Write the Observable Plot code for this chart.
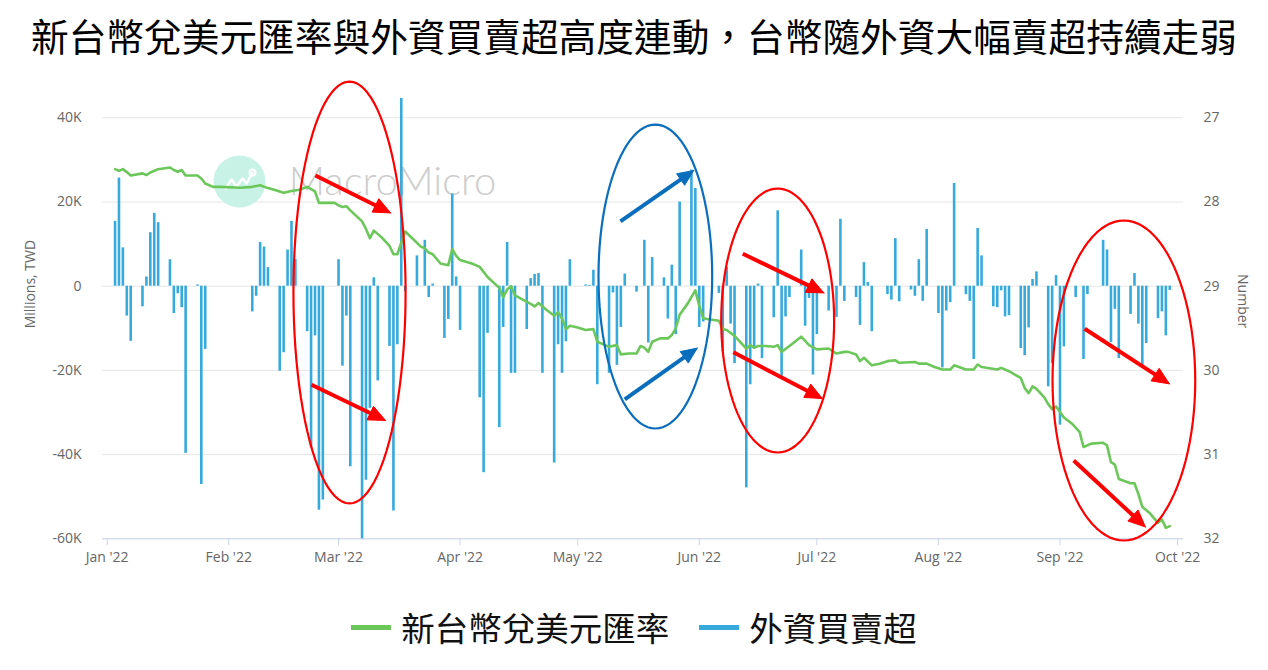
<!DOCTYPE html>
<html><head><meta charset="utf-8">
<script src="https://cdn.jsdelivr.net/npm/d3@7"></script>
<script src="https://cdn.jsdelivr.net/npm/@observablehq/plot@0.6"></script>
<style>
html,body{margin:0;padding:0;background:#fff}
body{width:1268px;height:670px;position:relative;overflow:hidden;font-family:"Noto Sans CJK TC","Noto Sans",sans-serif}
#title{position:absolute;left:0;top:13px;width:1268px;text-align:center;font-size:37.7px;line-height:44px;color:#000;white-space:nowrap}
#chart{position:absolute;left:0;top:70px}
#legend{position:absolute;left:0;top:606px;width:1268px;display:flex;justify-content:center;align-items:center;font-size:33.5px;line-height:42px;color:#111}
#legend .sw{display:inline-block;width:40px;height:5px;margin-right:10px}
</style></head>
<body>
<div id="title">新台幣兌美元匯率與外資買賣超高度連動，台幣隨外資大幅賣超持續走弱</div>
<div id="chart"></div>
<div id="legend"><span class="sw" style="background:#6cc75a"></span><span>新台幣兌美元匯率</span><span class="sw" style="background:#37aadc;margin-left:30px"></span><span>外資買賣超</span></div>
<script>
// ---------- data ----------
// Foreign investors' net buy/sell (millions TWD), per trading day
const foreignNet = [
["2022-01-03",15400],["2022-01-04",25700],["2022-01-05",9100],["2022-01-06",-7100],["2022-01-07",-13100],
["2022-01-10",-4900],["2022-01-11",2200],["2022-01-12",12700],["2022-01-13",17300],["2022-01-14",15100],
["2022-01-17",6300],["2022-01-18",-6500],["2022-01-19",-1800],["2022-01-20",-5100],["2022-01-21",-39700],
["2022-01-24",300],["2022-01-25",-47100],["2022-01-26",-15000],
["2022-02-07",-6100],["2022-02-08",-2400],["2022-02-09",10400],["2022-02-10",9300],["2022-02-11",4400],
["2022-02-14",-20200],["2022-02-15",-15800],["2022-02-16",8600],["2022-02-17",15400],["2022-02-18",6300],
["2022-02-21",-10800],["2022-02-22",-38400],["2022-02-23",-11800],["2022-02-24",-53200],["2022-02-25",-50800],
["2022-03-01",6300],["2022-03-02",-19000],["2022-03-03",-7100],["2022-03-04",-42900],
["2022-03-07",-60000],["2022-03-08",-46100],["2022-03-09",-29000],["2022-03-10",2000],["2022-03-11",-22500],
["2022-03-14",-14300],["2022-03-15",-53400],["2022-03-16",-13900],["2022-03-17",44600],["2022-03-18",-1300],
["2022-03-21",7200],["2022-03-23",10900],["2022-03-24",-2700],["2022-03-25",500],
["2022-03-28",-12400],["2022-03-29",-7900],["2022-03-30",21900],["2022-03-31",2200],["2022-04-01",-10500],
["2022-04-06",-26500],["2022-04-07",-44300],["2022-04-08",-11200],
["2022-04-11",-33600],["2022-04-12",-9800],["2022-04-13",10400],["2022-04-14",-20700],["2022-04-15",-20700],
["2022-04-18",-10300],["2022-04-19",1800],["2022-04-20",2800],["2022-04-21",3000],["2022-04-22",-20700],
["2022-04-25",-42000],["2022-04-26",-13900],["2022-04-27",-20700],["2022-04-28",-13200],["2022-04-29",6300],
["2022-05-03",300],["2022-05-04",200],["2022-05-05",3800],["2022-05-06",-23400],
["2022-05-09",-20700],["2022-05-10",-1600],["2022-05-11",-18800],["2022-05-12",-9800],["2022-05-13",2900],
["2022-05-16",-1400],["2022-05-18",10900],["2022-05-19",-13500],["2022-05-20",6800],
["2022-05-23",2000],["2022-05-24",-7800],["2022-05-25",5000],["2022-05-26",-11500],["2022-05-27",20000],
["2022-05-30",27600],["2022-05-31",23200],["2022-06-01",-9800],["2022-06-02",-8500],
["2022-06-06",-1700],["2022-06-07",-15600],["2022-06-08",4400],["2022-06-09",-9000],["2022-06-10",-18400],
["2022-06-13",-47900],["2022-06-14",-23400],["2022-06-15",-15000],["2022-06-16",500],["2022-06-17",-17200],
["2022-06-20",-7500],["2022-06-21",17900],["2022-06-22",-21400],["2022-06-23",-7300],["2022-06-24",-2700],
["2022-06-27",8600],["2022-06-28",-9500],["2022-06-29",-2900],["2022-06-30",-21100],["2022-07-01",-11500],
["2022-07-04",-5900],["2022-07-06",-7400],["2022-07-07",15900],["2022-07-08",-3600],
["2022-07-11",-2700],["2022-07-12",-9300],["2022-07-13",5600],["2022-07-14",900],["2022-07-15",-10800],
["2022-07-19",-2000],["2022-07-20",-3300],["2022-07-21",11300],["2022-07-22",-3700],
["2022-07-25",-900],["2022-07-26",-2400],["2022-07-27",6300],["2022-07-28",-3600],["2022-07-29",13500],
["2022-08-01",-6500],["2022-08-02",-19400],["2022-08-03",-5900],["2022-08-04",-3900],["2022-08-05",24400],
["2022-08-08",-2000],["2022-08-09",-3600],["2022-08-10",-17400],["2022-08-11",13700],["2022-08-12",7200],
["2022-08-15",-4900],["2022-08-16",-5100],["2022-08-17",-1100],["2022-08-18",-7300],["2022-08-19",-7000],
["2022-08-22",-14800],["2022-08-23",-16500],["2022-08-24",-9900],["2022-08-25",1600],["2022-08-26",3400],
["2022-08-29",-23900],["2022-08-30",-18400],["2022-08-31",2500],["2022-09-01",-33000],["2022-09-02",-14400],
["2022-09-05",-2700],["2022-09-07",-17400],["2022-09-08",-2000],
["2022-09-12",10900],["2022-09-13",8600],["2022-09-14",-13400],["2022-09-15",-5500],["2022-09-16",-17200],
["2022-09-19",-6700],["2022-09-20",3000],["2022-09-21",-9000],["2022-09-22",-18800],["2022-09-23",-13600],
["2022-09-26",-7700],["2022-09-27",-6100],["2022-09-28",-11800],["2022-09-29",-1000]
];
// TWD per USD
const twdUsd = [
["2022-01-03",27.61],["2022-01-04",27.63],["2022-01-05",27.61],["2022-01-06",27.645],["2022-01-07",27.685],
["2022-01-10",27.66],["2022-01-11",27.68],["2022-01-12",27.65],["2022-01-14",27.61],["2022-01-17",27.59],
["2022-01-18",27.62],["2022-01-19",27.64],["2022-01-20",27.62],["2022-01-21",27.685],["2022-01-24",27.685],
["2022-01-25",27.72],["2022-01-26",27.78],["2022-01-28",27.82],["2022-01-30",27.82],["2022-02-04",27.83],
["2022-02-07",27.82],["2022-02-09",27.80],["2022-02-11",27.835],["2022-02-13",27.86],["2022-02-15",27.89],
["2022-02-17",27.87],["2022-02-19",27.855],["2022-02-21",27.82],["2022-02-23",27.875],["2022-02-24",28.01],
["2022-02-25",28.01],["2022-02-28",28.01],["2022-03-01",28.04],["2022-03-02",28.06],["2022-03-03",28.05],
["2022-03-04",28.10],["2022-03-07",28.23],["2022-03-08",28.32],["2022-03-09",28.43],["2022-03-10",28.34],
["2022-03-12",28.42],["2022-03-14",28.52],["2022-03-15",28.62],["2022-03-16",28.62],["2022-03-18",28.35],
["2022-03-20",28.44],["2022-03-22",28.53],["2022-03-23",28.55],["2022-03-24",28.60],["2022-03-25",28.62],
["2022-03-27",28.73],["2022-03-29",28.75],["2022-03-30",28.56],["2022-03-31",28.64],["2022-04-01",28.69],
["2022-04-04",28.73],["2022-04-06",28.77],["2022-04-08",28.89],["2022-04-11",29.02],["2022-04-12",29.13],
["2022-04-13",29.04],["2022-04-14",29.00],["2022-04-15",29.11],["2022-04-17",29.16],["2022-04-19",29.21],
["2022-04-20",29.24],["2022-04-21",29.20],["2022-04-23",29.28],["2022-04-25",29.35],["2022-04-26",29.31],
["2022-04-27",29.38],["2022-04-28",29.51],["2022-04-29",29.47],["2022-05-01",29.49],["2022-05-03",29.52],
["2022-05-05",29.51],["2022-05-06",29.66],["2022-05-08",29.70],["2022-05-09",29.72],["2022-05-11",29.70],
["2022-05-12",29.81],["2022-05-14",29.80],["2022-05-16",29.80],["2022-05-17",29.71],["2022-05-18",29.73],
["2022-05-19",29.78],["2022-05-20",29.66],["2022-05-22",29.62],["2022-05-24",29.62],["2022-05-25",29.58],
["2022-05-26",29.50],["2022-05-27",29.34],["2022-05-29",29.21],["2022-05-31",29.05],["2022-06-01",29.23],
["2022-06-02",29.38],["2022-06-03",29.39],["2022-06-06",29.41],["2022-06-07",29.51],["2022-06-08",29.52],
["2022-06-10",29.59],["2022-06-11",29.64],["2022-06-13",29.74],["2022-06-14",29.70],["2022-06-15",29.73],
["2022-06-16",29.71],["2022-06-18",29.71],["2022-06-20",29.72],["2022-06-21",29.70],["2022-06-22",29.78],
["2022-06-24",29.71],["2022-06-27",29.60],["2022-06-29",29.70],["2022-07-01",29.75],["2022-07-04",29.74],
["2022-07-06",29.80],["2022-07-08",29.78],["2022-07-09",29.78],["2022-07-11",29.81],["2022-07-12",29.89],
["2022-07-13",29.85],["2022-07-15",29.94],["2022-07-17",29.92],["2022-07-19",29.89],["2022-07-21",29.88],
["2022-07-22",29.91],["2022-07-26",29.90],["2022-07-27",29.92],["2022-07-29",29.92],["2022-07-31",29.96],
["2022-08-02",29.99],["2022-08-04",29.99],["2022-08-05",29.94],["2022-08-08",29.99],["2022-08-10",29.99],
["2022-08-11",29.93],["2022-08-12",29.96],["2022-08-16",29.99],["2022-08-17",29.97],["2022-08-19",30.01],
["2022-08-22",30.09],["2022-08-23",30.21],["2022-08-24",30.27],["2022-08-25",30.19],["2022-08-26",30.22],
["2022-08-28",30.32],["2022-08-29",30.40],["2022-08-30",30.46],["2022-08-31",30.43],["2022-09-02",30.56],
["2022-09-04",30.63],["2022-09-06",30.73],["2022-09-07",30.91],["2022-09-09",30.87],["2022-09-12",30.86],
["2022-09-13",30.89],["2022-09-14",31.09],["2022-09-15",31.12],["2022-09-16",31.29],["2022-09-19",31.34],
["2022-09-20",31.34],["2022-09-21",31.47],["2022-09-22",31.62],["2022-09-24",31.70],["2022-09-26",31.81],
["2022-09-27",31.77],["2022-09-28",31.87],["2022-09-29",31.85]
];
const monthTicks = ["2022-01-01","2022-02-01","2022-03-01","2022-04-01","2022-05-01","2022-06-01","2022-07-01","2022-08-01","2022-09-01","2022-10-01"];
const flowTicks = [40000,20000,0,-20000,-40000,-60000];
const rateTicks = [27,28,29,30,31,32];

// annotations: [centerDayOfYear, centerValue, radiusDays, radiusValue]
const redEllipses = [[61.8,-1500,14.3,50100],[171.0,-8150,14.4,31350],[259.3,-22400,18.2,38000]];
const blueEllipses = [[139.8,2300,14.5,36100]];
// arrows: [day1, value1, day2, value2]
const redArrows = [[53.1,26300,72.3,17400],[52.1,-23400,71.0,-31900],[162.1,7700,182.8,-1600],
                   [159.7,-15700,182.4,-26700],[249.3,-10100,270.9,-23200],[246.5,-41400,264.8,-57200]];
const blueArrows = [[130.9,15400,149.6,27500],[132.0,-26900,150.5,-14700]];

// ---------- layout ----------
const W=1268,H=520,ML=102,MR=85,MT=47.3,MB=H-468.3,TOP=70;
const DAY=864e5, J1=Date.UTC(2022,0,1);
const x0=new Date(J1-1.198*DAY), x1=new Date(Date.UTC(2022,9,1)+1.504*DAY);
const rateToFlow = r => 40000-(r-27)*20000;
const doy = d => new Date(J1+d*DAY);
const xpx = t => ML+(+t-+x0)/(+x1-+x0)*(W-ML-MR);
const ypx = v => MT+(40000-v)/100000*(H-MT-MB);
const pxX = p => new Date(+x0+(p-ML)/(W-ML-MR)*(+x1-+x0));
const pxY = p => 40000-(p-MT)/(H-MT-MB)*100000;

function ellipsePts(list){
  const out=[];
  list.forEach((e,i)=>{for(let k=0;k<=96;k++){const a=k/96*2*Math.PI;
    out.push({id:i,x:doy(e[0]+e[2]*Math.cos(a)),y:e[1]+e[3]*Math.sin(a)});}});
  return out;
}
function arrowParts(list,L,Wd){
  const shafts=[],heads=[];
  list.forEach((a,i)=>{
    const sx=xpx(doy(a[0])),sy=ypx(a[1]),tx=xpx(doy(a[2])),ty=ypx(a[3]);
    const len=Math.hypot(tx-sx,ty-sy),ux=(tx-sx)/len,uy=(ty-sy)/len,nx=-uy,ny=ux;
    const bx=tx-ux*L,by=ty-uy*L;
    shafts.push({x1:pxX(sx),y1:pxY(sy),x2:pxX(bx+ux*2),y2:pxY(by+uy*2)});
    [[tx,ty],[bx+nx*Wd/2,by+ny*Wd/2],[bx-nx*Wd/2,by-ny*Wd/2],[tx,ty]].forEach(p=>heads.push({id:i,x:pxX(p[0]),y:pxY(p[1])}));
  });
  return {shafts,heads};
}
const ra=arrowParts(redArrows,17,15), ba=arrowParts(blueArrows,16,14);
const logo = [[-14,7],[-8,-2],[-3,5],[3,-3],[7,2],[13,-9]];

const bars = foreignNet.map(d=>({date:new Date(d[0]),v:d[1]}));
const rate = twdUsd.map(d=>({date:new Date(d[0]),r:d[1]}));

const chart = Plot.plot({
  width:W,height:H,marginLeft:ML,marginRight:MR,marginTop:MT,marginBottom:MB,
  x:{type:"utc",domain:[x0,x1]},
  y:{domain:[-60000,40000]},
  style:{fontFamily:"'Open Sans',sans-serif",fontSize:"14px",color:"#666",background:"#fff",overflow:"visible"},
  marks:[
    Plot.ruleY(flowTicks,{stroke:"#e6e6e6",strokeWidth:1}),
    Plot.ruleY([-60000],{stroke:"#ccd6eb"}),
    Plot.dot([0],{x:()=>pxX(239),y:()=>pxY(181-TOP),r:26,fill:"#c8f2e6",stroke:null}),
    Plot.line(logo,{x:p=>pxX(239+p[0]),y:p=>pxY(181-TOP+p[1]),stroke:"#fff",strokeWidth:2.5}),
    Plot.dot([0],{x:()=>pxX(252),y:()=>pxY(172-TOP),r:3,fill:"none",stroke:"#fff",strokeWidth:2}),
    Plot.text(["MacroMicro"],{x:()=>pxX(392),y:()=>pxY(182-TOP),text:d=>d,fontSize:40,fontFamily:"Lato",fontWeight:300,fill:"#cdcdcd"}),
    Plot.ruleX(bars,{x:"date",y1:()=>0,y2:"v",stroke:"#37aadc",strokeWidth:2.6}),
    Plot.line(rate,{x:"date",y:d=>rateToFlow(d.r),stroke:"#6cc75a",strokeWidth:2.6}),
    Plot.axisY(flowTicks,{anchor:"left",tickSize:0,tickPadding:21,label:null,fontSize:14,
      tickFormat:v=>v===0?"0":(v/1000)+"K"}),
    Plot.axisY(flowTicks,{anchor:"right",tickSize:0,tickPadding:20,label:null,fontSize:14,
      tickFormat:v=>String(27+(40000-v)/20000)}),
    Plot.axisX(monthTicks.map(d=>new Date(d)),{anchor:"bottom",tickSize:7,tickPadding:6,stroke:"#ccd6eb",label:null,fontSize:14,
      tickFormat:d3.utcFormat("%b '%y")}),
    Plot.text(["Millions, TWD"],{frameAnchor:"left",dx:-72,rotate:-90,text:d=>d,fontSize:14,fill:"#666"}),
    Plot.text(["Number"],{frameAnchor:"right",dx:59,rotate:90,text:d=>d,fontSize:14,fill:"#666"}),
    Plot.line(ellipsePts(redEllipses),{x:"x",y:"y",z:"id",stroke:"#ff0000",strokeWidth:2.2,curve:"linear"}),
    Plot.line(ellipsePts(blueEllipses),{x:"x",y:"y",z:"id",stroke:"#0a6ebd",strokeWidth:2.2,curve:"linear"}),
    Plot.link(ra.shafts,{x1:"x1",y1:"y1",x2:"x2",y2:"y2",stroke:"#ff0000",strokeWidth:4,strokeLinecap:"butt"}),
    Plot.line(ra.heads,{x:"x",y:"y",z:"id",fill:"#ff0000",stroke:"#ff0000",strokeWidth:1}),
    Plot.link(ba.shafts,{x1:"x1",y1:"y1",x2:"x2",y2:"y2",stroke:"#0a6ebd",strokeWidth:4,strokeLinecap:"butt"}),
    Plot.line(ba.heads,{x:"x",y:"y",z:"id",fill:"#0a6ebd",stroke:"#0a6ebd",strokeWidth:1})
  ]
});
document.getElementById("chart").appendChild(chart);
</script>
</body></html>
